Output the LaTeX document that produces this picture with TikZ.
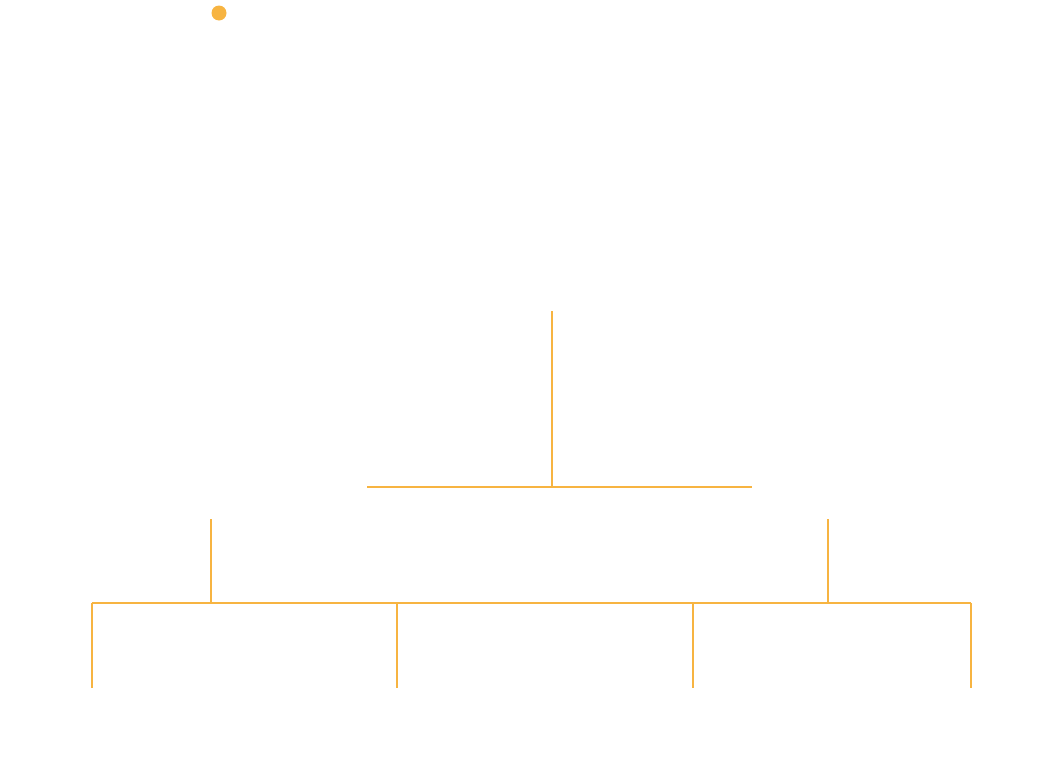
\documentclass[tikz,border=0pt]{standalone}
\usepackage{xcolor}
\usepackage{tikz}
\definecolor{treeorange}{HTML}{F7B441}
\tikzset{
  branch/.style={draw=treeorange,line width=0.04cm},
  dot/.style={circle,fill=treeorange,inner sep=0pt,minimum size=0.3cm}
}
\begin{document}
\begin{tikzpicture}[x=0.02cm,y=-0.02cm]
      \useasboundingbox (0,0) rectangle (1041,768);
      \node[dot] (mark) at (219,13) {};
      % upper T
      \coordinate (stem) at (552,311);
      \coordinate (fork) at (552,487);
      \coordinate (forkL) at (367,487);
      \coordinate (forkR) at (752,487);
      \draw[branch] (stem) -- (fork);
      \draw[branch] (forkL) -- (forkR);
      % two drops onto the long bar
      \coordinate (dropL) at (211,519);
      \coordinate (joinL) at (211,603);
      \coordinate (dropR) at (828,519);
      \coordinate (joinR) at (828,603);
      \draw[branch] (dropL) -- (joinL);
      \draw[branch] (dropR) -- (joinR);
      \coordinate (barL) at (92,603);
      \coordinate (barR) at (971,603);
      \draw[branch] (barL) -- (barR);
      % legs
      \foreach \u [count=\i] in {92,397,693,971} {
        \coordinate (top\i) at (\u,603);
        \coordinate (leg\i) at (\u,688);
        \draw[branch] (top\i) -- (leg\i);
      }
    \end{tikzpicture}
\end{document}
